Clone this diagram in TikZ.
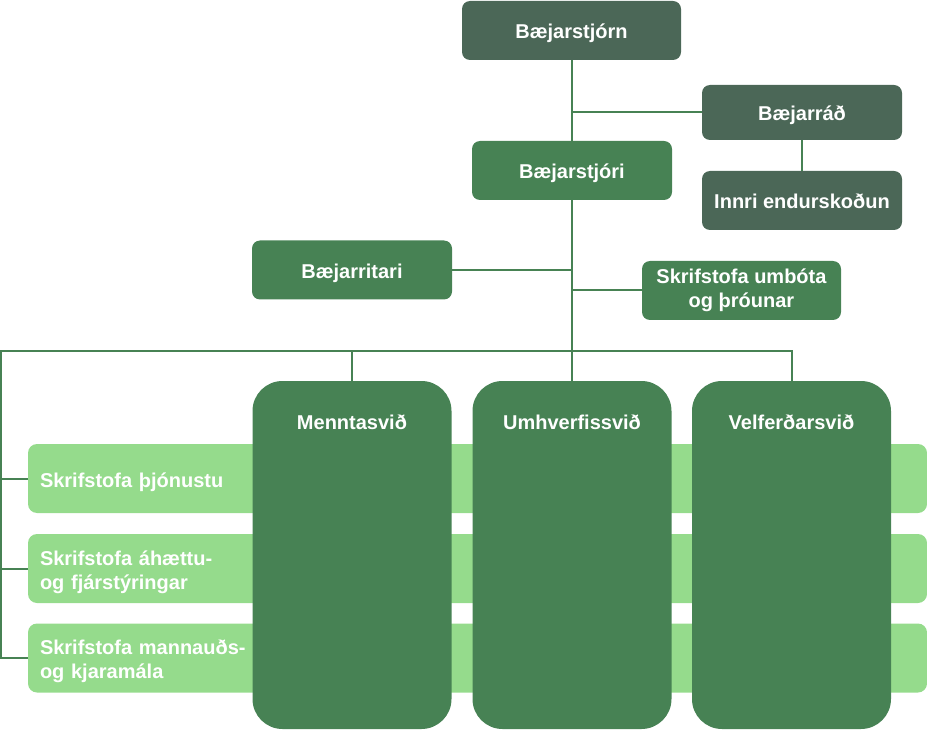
\documentclass[tikz,border=0pt]{standalone}
\usepackage{fontspec}
\setmainfont{Liberation Sans}
\definecolor{darkbox}{HTML}{4B6757}
\definecolor{midbox}{HTML}{478254}
\definecolor{lightbar}{HTML}{95DB8C}
\definecolor{linecol}{HTML}{478254}
\newcommand{\mytopstrut}{\rule{0pt}{22pt}}
\newcommand{\mybotstrut}{\rule[-5pt]{0pt}{5pt}}
\tikzset{
  base/.style={rectangle, text=white, font=\fontsize{20}{24}\selectfont\bfseries, align=center, inner sep=0pt,
    execute at begin node=\mytopstrut, execute at end node=\mybotstrut},
  topbox/.style={base, fill=darkbox, rounded corners=8pt},
  midboxst/.style={base, fill=midbox, rounded corners=8pt},
  bigbox/.style={rectangle, fill=midbox, rounded corners=30pt, minimum width=199pt, minimum height=348pt, inner sep=0pt},
  barbox/.style={base, fill=lightbar, rounded corners=9pt, minimum width=899pt, minimum height=69pt, text width=875pt, align=left},
  txt/.style={base},
  conn/.style={draw=linecol, line width=2pt},
}
\begin{document}
\begin{tikzpicture}[x=1pt,y=-1pt]
\useasboundingbox (0,0) rectangle (927,730);
% boxes
\node[topbox, minimum width=219pt, minimum height=59pt] (bjn) at (571.5,30.5) {Bæjarstjórn};
\node[topbox, minimum width=200pt, minimum height=55pt] (bjr) at (802,112.5) {Bæjarráð};
\node[topbox, minimum width=200pt, minimum height=59pt] (innri) at (802,200.5) {Innri endurskoðun};
\node[midboxst, minimum width=200pt, minimum height=59pt] (bjori) at (572,170.5) {Bæjarstjóri};
\node[midboxst, minimum width=200pt, minimum height=59pt] (britari) at (352,270) {Bæjarritari};
\node[midboxst, minimum width=199pt, minimum height=59pt] (umbota) at (741.5,290.5) {Skrifstofa umbóta\\og þróunar};
% light bars
\node[barbox] (bar1) at (477.5,478.5) {Skrifstofa þjónustu};
\node[barbox] (bar2) at (477.5,568.5) {Skrifstofa áhættu-\\og fjárstýringar};
\node[barbox] (bar3) at (477.5,658) {Skrifstofa mannauðs-\\og kjaramála};
% big boxes
\node[bigbox] (men) at (352,555) {};
\node[bigbox] (umh) at (572,555) {};
\node[bigbox] (vel) at (791.5,555) {};
\node[txt] (mentxt) at ([yshift=-40.5pt]men.north) {Menntasvið};
\node[txt] (umhtxt) at ([yshift=-40.5pt]umh.north) {Umhverfissvið};
\node[txt] (veltxt) at ([yshift=-40.5pt]vel.north) {Velferðarsvið};
% connectors
\coordinate (bus) at (1,351);
\draw[conn] (bjn.south) -- (bjn.south |- bjori.north);
\draw[conn] (bjr.west) -- (bjr.west -| bjn.south);
\draw[conn] (bjr.south) -- (innri.north);
\draw[conn] (bjori.south) -- (umh.north);
\draw[conn] (britari.east) -- (britari.east -| bjori.south);
\draw[conn] (umbota.west) -- (umbota.west -| bjori.south);
\draw[conn] (men.north) -- (men.north |- bus);
\draw[conn] (vel.north) -- (vel.north |- bus) -- (bus) -- (bus |- bar3.west) -- (bar3.west);
\draw[conn] (bus |- bar1.west) -- (bar1.west);
\draw[conn] (bus |- bar2.west) -- (bar2.west);
\end{tikzpicture}
\end{document}
